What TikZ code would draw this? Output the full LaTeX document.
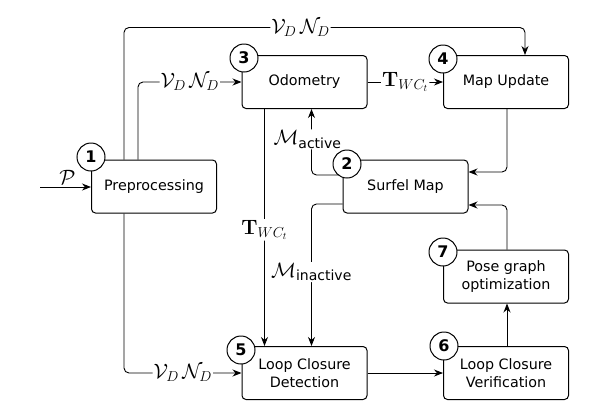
\documentclass[tikz,border=0pt]{standalone}
\usepackage{amsmath}
\usepackage[no-math]{fontspec}
\setmainfont{DejaVu Sans}
\usetikzlibrary{arrows.meta,calc}
\begin{document}
\begin{tikzpicture}[x=1pt,y=-1pt,
  box/.style={draw, line width=1pt, rounded corners=4pt, minimum width=125pt, minimum height=53pt, align=center, inner sep=0pt, font=\fontsize{14.3}{18}\selectfont},
  num/.style={draw, circle, fill=white, line width=1pt, minimum size=28pt, inner sep=0pt, font=\fontsize{16}{16}\selectfont\bfseries},
  arr/.style={-{Stealth[length=9pt,width=7pt]}, line width=0.9pt, rounded corners=5pt},
  lab/.style={fill=white, inner sep=1pt, font=\fontsize{20}{24}\selectfont}]
\useasboundingbox (0,0) rectangle (596,416);
% boxes
\node[box] (pre)  at (154,186.5) {Preprocessing};
\node[box] (odo)  at (304.5,82) {Odometry};
\node[box] (map)  at (506,82) {Map Update};
\node[box] (surf) at (405.5,186.5) {Surfel Map};
\node[box] (lcd)  at (304.5,373) {Loop Closure\\Detection};
\node[box] (lcv)  at (506,373) {Loop Closure\\Verification};
\node[box] (pgo)  at (506,276.5) {Pose graph\\optimization};
\coordinate (in) at (40,187);
% connectors
\draw[arr] (in) -- node[above, font=\fontsize{20}{24}\selectfont, inner sep=2pt, xshift=2pt]{$\mathcal{P}$} (in -| pre.west);
\draw[arr] ([xshift=33pt]pre.north west) -- ++(0,-132) -- node[lab,pos=0.44]{$\mathcal{V}_D\,\mathcal{N}_D$} ++(401,0) -- ([xshift=82pt]map.north west);
\draw[arr] ([xshift=47pt]pre.north west) |- node[lab,pos=0.75]{$\mathcal{V}_D\,\mathcal{N}_D$} (odo.west);
\draw[arr] ([xshift=33pt]pre.south west) |- node[lab,pos=0.75]{$\mathcal{V}_D\,\mathcal{N}_D$} (lcd.west);
\draw[arr] (odo.east) -- node[lab]{$\mathbf{T}_{WC_t}$} (map.west);
\draw[arr] ([xshift=23pt]odo.south west) -- node[lab,pos=0.51]{$\mathbf{T}_{WC_t}$} ([xshift=23pt]lcd.north west);
\draw[arr] ([yshift=11.5pt]surf.west) -| node[lab,pos=0.77,xshift=-4pt]{$\mathcal{M}_{\text{active}}$} ([xshift=70pt]odo.south west);
\draw[arr] ([yshift=-17.5pt]surf.west) -| node[lab,pos=0.74]{$\mathcal{M}_{\text{inactive}}$} ([xshift=70pt]lcd.north west);
\draw[arr] ([xshift=64pt]map.south west) |- ([yshift=14.5pt]surf.east);
\draw[arr] ([xshift=64pt]pgo.north west) |- ([yshift=-18.5pt]surf.east);
\draw[arr] (lcd.east) -- (lcv.west);
\draw[arr] ([xshift=64pt]lcv.north west) -- ([xshift=64pt]pgo.south west);
% numbers
\node[num] (n1) at (91,157) {1};
\node[num] (n2) at (347,164) {2};
\node[num] (n3) at (244,58) {3};
\node[num] (n4) at (443,59) {4};
\node[num] (n5) at (241,350) {5};
\node[num] (n6) at (444,346) {6};
\node[num] (n7) at (443,252) {7};
\end{tikzpicture}
\end{document}
